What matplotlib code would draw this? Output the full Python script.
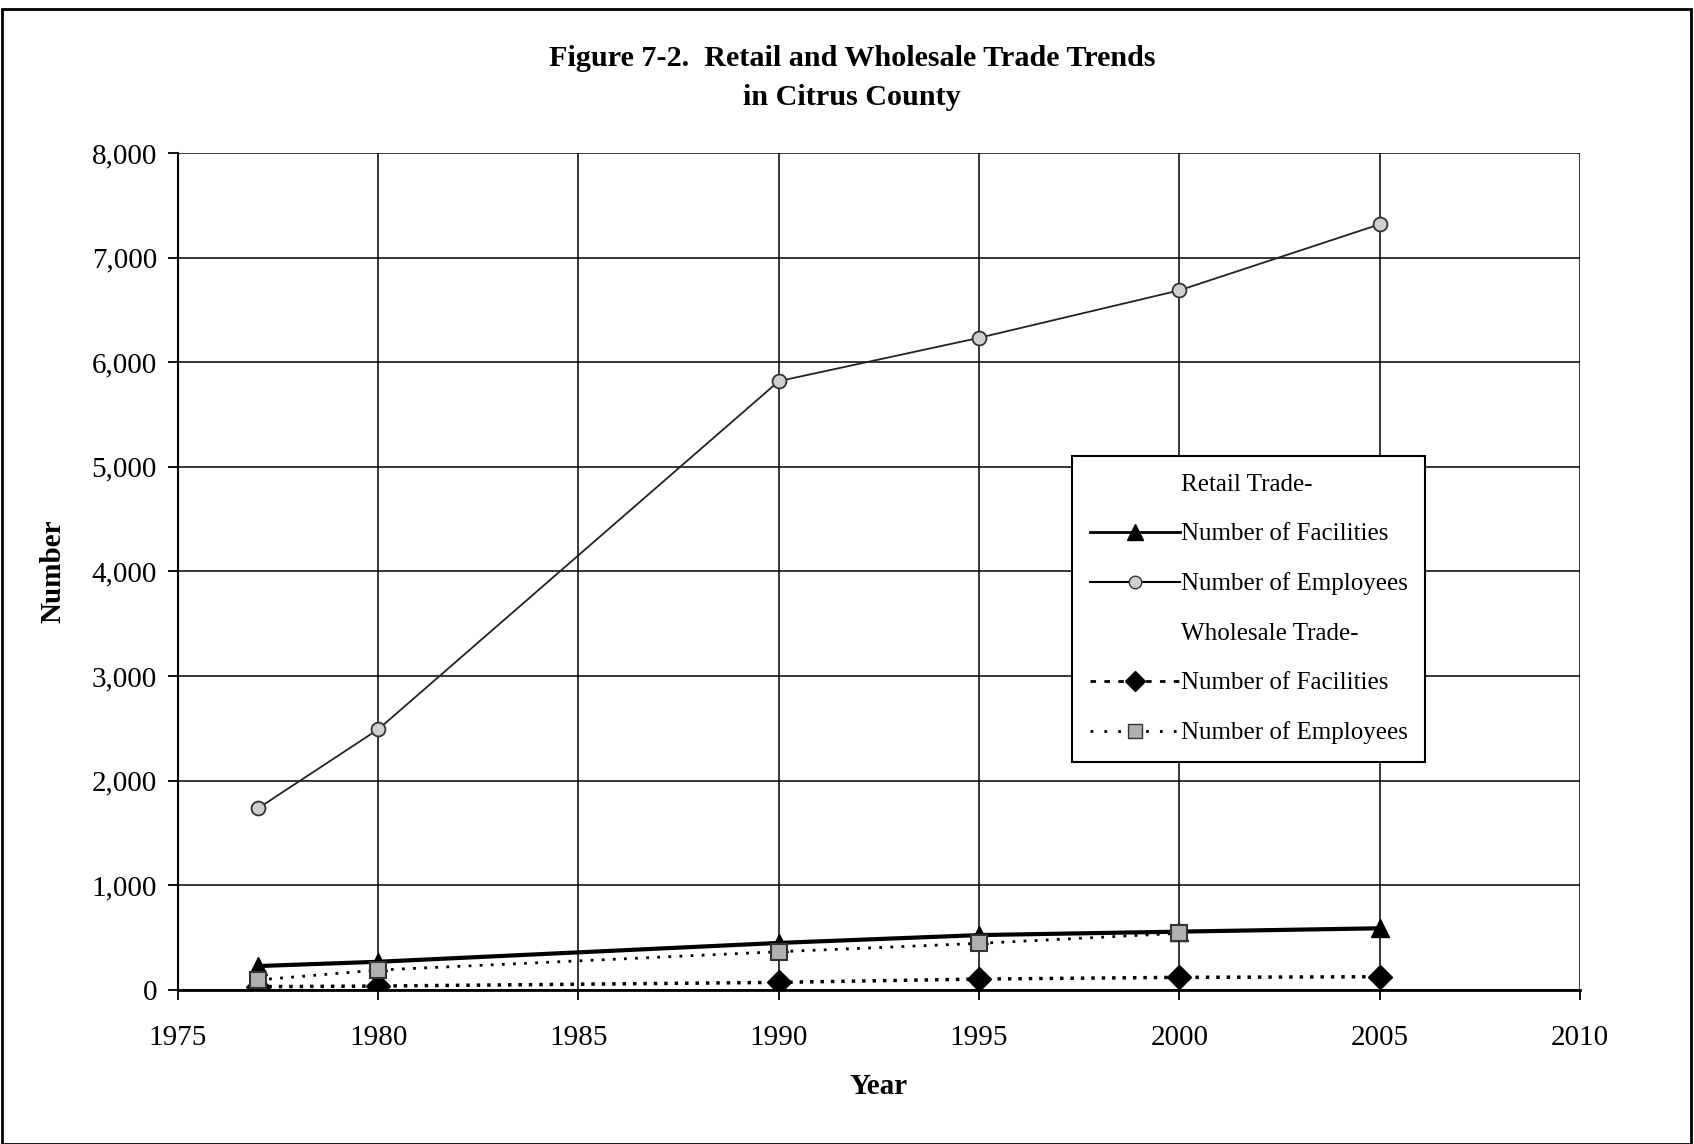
import numpy as np
import matplotlib
matplotlib.use('Agg')
import matplotlib.pyplot as plt
from matplotlib.lines import Line2D
from matplotlib.patches import Rectangle
from matplotlib.ticker import FuncFormatter

plt.rcParams['font.family'] = ['Liberation Serif', 'DejaVu Serif']

# Datos
anios = [1977, 1980, 1990, 1995, 2000, 2005]
minorista_instalaciones = [229, 270, 450, 525, 558, 590]
minorista_empleados = [1736, 2491, 5819, 6233, 6687, 7318]
mayorista_instalaciones = [32, 38, 73, 105, 121, 127]
mayorista_empleados = [96, 191, 366, 446, 542, np.nan]

fig = plt.figure(figsize=(16.94, 11.44), dpi=100)
ax = fig.add_axes([0.105, 0.1346, 0.8277, 0.7317])

ax.plot(anios, minorista_instalaciones, color='black', lw=3, marker='^', ms=13, mfc='black')
ax.plot(anios, minorista_empleados, color='#222222', lw=1.3, marker='o', ms=10,
        mfc='#cfcfcf', mec='#333333', mew=1.3)
ax.plot(anios, mayorista_instalaciones, color='black', lw=2.5, ls=(0, (1, 2)), marker='D', ms=12, mfc='black')
ax.plot(anios, mayorista_empleados, color='black', lw=2, ls=(0, (1, 3)), marker='s', ms=11,
        mfc='#b0b0b0', mec='#333333', mew=1.5)

ax.set_xlim(1975, 2010)
ax.set_ylim(0, 8000)
ax.set_xticks(range(1975, 2011, 5))
ax.set_yticks(range(0, 8001, 1000))
ax.yaxis.set_major_formatter(FuncFormatter(lambda v, p: f'{int(v):,}'))
ax.grid(True, color='black', lw=1.1)
ax.set_axisbelow(True)
for s in ['top', 'right']:
    ax.spines[s].set_visible(False)
ax.spines['left'].set_linewidth(1.5)
ax.spines['bottom'].set_linewidth(2)
ax.tick_params(axis='both', labelsize=21, direction='out', length=7, width=1.3)
ax.tick_params(axis='x', pad=18)
ax.tick_params(axis='y', pad=8)

ax.set_xlabel('Year', fontsize=21, fontweight='bold', labelpad=16)
ax.set_ylabel('Number', fontsize=21, fontweight='bold', labelpad=18)

fig.text(0.503, 0.961, 'Figure 7-2.  Retail and Wholesale Trade Trends\nin Citrus County',
         ha='center', va='top', fontsize=21.7, fontweight='bold', linespacing=1.6)

# Leyenda con encabezados de grupo
vacio = Line2D([], [], color='none')
handles = [
    vacio,
    Line2D([], [], color='black', lw=2, marker='^', ms=12, mfc='black'),
    Line2D([], [], color='black', lw=1.5, marker='o', ms=9, mfc='#cfcfcf', mec='#333333'),
    vacio,
    Line2D([], [], color='black', lw=2, ls=(0, (2, 3)), marker='D', ms=10, mfc='black'),
    Line2D([], [], color='black', lw=2, ls=(0, (1, 4)), marker='s', ms=10, mfc='#b0b0b0', mec='#333333'),
]
labels = ['Retail Trade-', 'Number of Facilities', 'Number of Employees',
          'Wholesale Trade-', 'Number of Facilities', 'Number of Employees']
leg = ax.legend(handles, labels, loc='upper left', bbox_to_anchor=(0.629, 0.653),
                fontsize=18, frameon=True, fancybox=False, edgecolor='black',
                framealpha=1, handlelength=3.6, labelspacing=1.08, borderpad=0.7,
                handletextpad=0.05)
leg.get_frame().set_linewidth(1.5)

# Marco exterior de la figura
fig.patches.append(Rectangle((0.001, 0.0), 0.997, 0.992, transform=fig.transFigure,
                             fill=False, edgecolor='black', lw=2))

fig.savefig('out.png', dpi=100)
